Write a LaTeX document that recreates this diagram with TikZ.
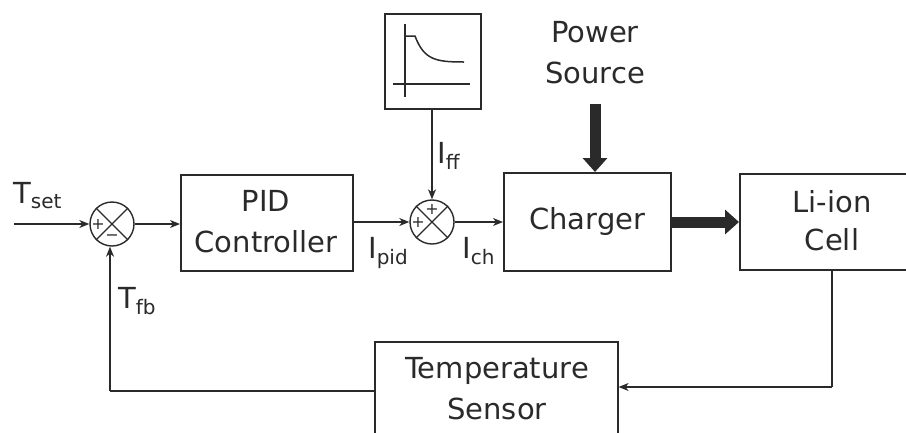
\documentclass[tikz,border=0pt]{standalone}
\usepackage{fontspec}
\setmainfont{DejaVu Sans}
\usetikzlibrary{arrows.meta}
\definecolor{ln}{HTML}{2A2A2A}
\begin{document}
\begin{tikzpicture}[x=1pt,y=-1pt,
  every node/.style={font=\fontsize{29}{41}\selectfont, text=ln},
  blk/.style={draw=ln, line width=1.6pt, rectangle, inner sep=0pt, anchor=north west},
  sumj/.style={draw=ln, line width=1.4pt, circle, minimum size=44pt, inner sep=0pt},
  sig/.style={draw=ln, line width=1.3pt, -{Stealth[length=10pt,width=8pt,inset=3pt]}},
  wire/.style={draw=ln, line width=1.3pt},
  fat/.style={draw=ln, line width=11pt, -{Triangle[length=14pt,width=24pt]}},
  lbl/.style={font=\fontsize{29}{33}\selectfont, inner sep=0pt, anchor=base west},
  sgn/.style={font=\fontsize{16}{16}\selectfont, inner sep=0pt}]
\useasboundingbox (0,0) rectangle (906,432);
\clip (0,0) rectangle (906,432);

% blocks
\node[blk, minimum width=172pt, minimum height=96pt] (pid) at (180,174) {};
\node[align=center] at (266,222) {PID\\Controller};
\node[blk, minimum width=96pt, minimum height=95pt] (ff) at (384,13) {};
\node[blk, minimum width=167pt, minimum height=98pt] (chg) at (503,172) {};
\node at (chg.center) {Charger};
\node[blk, minimum width=175pt, minimum height=96pt] (cell) at (739,173) {};
\node[align=center, font=\fontsize{29}{38}\selectfont] at (832,221) {Li-ion\\Cell};
\node[blk, minimum width=243pt, minimum height=110pt] (ts) at (374,341) {};
\node[align=center] at (497,389) {Temperature\\Sensor};

% feedforward graph
\draw[ln, line width=1.3pt] (405,24) -- (405,97);
\draw[ln, line width=1.3pt] (393,84) -- (470,84);
\draw[ln, line width=1.5pt] (405,36) -- (415,36) .. controls (424,60) and (436,62) .. (464,62);

% summing junctions
\node[sumj] (s1) at (112,224) {};
\draw[ln, line width=1.1pt] (s1.north east) -- (s1.south west) (s1.north west) -- (s1.south east);
\node[sgn] at (98,224) {+};
\node[sgn] at (112,238) {\textminus};

\node[sumj] (s2) at (432,222) {};
\draw[ln, line width=1.1pt] (s2.north east) -- (s2.south west) (s2.north west) -- (s2.south east);
\node[sgn] at (418,222) {+};
\node[sgn] at (432,209) {+};

% connectors
\coordinate (in) at (14,224);
\draw[sig] (in) -- (s1.west);
\draw[sig] (s1.east) -- (pid.west |- s1.east);
\draw[sig] (pid.east |- s2.west) -- (s2.west);
\draw[sig] (ff.south -| s2.north) -- (s2.north);
\draw[sig] (s2.east) -- (chg.west |- s2.east);

\coordinate (ps) at (595,104);
\draw[fat] (ps) -- (chg.north -| ps);
\draw[fat] (chg.east |- 0,222) -- (cell.west |- 0,222);

\coordinate (c1) at (832,387);
\draw[wire] (cell.south -| c1) -- (c1);
\draw[sig] (c1) -- (ts.east |- c1);
\coordinate (c2) at (110,391);
\draw[wire] (ts.west |- c2) -- (c2);
\draw[sig] (c2) -- (s1.south -| c2);

% labels
\node[lbl] at (13,203) {T\textsubscript{\fontsize{20}{20}\selectfont set}};
\node[lbl] at (118,308) {T\textsubscript{\fontsize{20}{20}\selectfont fb}};
\node[lbl] at (437,163) {I\textsubscript{\fontsize{20}{20}\selectfont ff}};
\node[lbl] at (368,258) {I\textsubscript{\fontsize{20}{20}\selectfont pid}};
\node[lbl] at (462,258) {I\textsubscript{\fontsize{20}{20}\selectfont ch}};
\node[align=center] at (595,53) {Power\\Source};
\end{tikzpicture}
\end{document}
